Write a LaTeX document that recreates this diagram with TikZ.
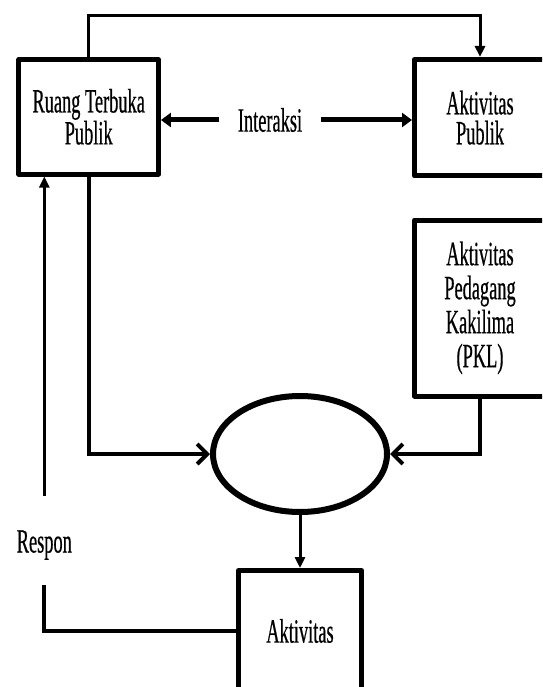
\documentclass[tikz,border=0pt]{standalone}
\usepackage{fontspec}
\newfontfamily\diagfont[FakeStretch=0.54,FakeBold=0.5]{Liberation Serif}
\usetikzlibrary{arrows.meta,shapes.geometric}

\begin{document}
\begin{tikzpicture}[x=1pt,y=-1pt,font=\diagfont\fontsize{34}{30}\selectfont,
        kotak/.style={draw,line width=5pt,line join=round,align=center,inner sep=0pt},
        panah/.style={-{Triangle[length=11pt,width=10pt]}}]
        \useasboundingbox (0,0) rectangle (542,687);
        \clip (0,0) rectangle (542,687);
        \node[kotak,minimum width=139.5pt,minimum height=114.5pt] (rtp) at (88.7,116.8) {Ruang Terbuka\\Publik};
        \node[kotak,minimum width=131pt,minimum height=116.5pt] (ap) at (480,117.7) {Aktivitas\\Publik};
        \node[kotak,minimum width=131pt,minimum height=176pt,font=\diagfont\fontsize{34}{34}\selectfont] (pkl) at (480,308) {Aktivitas\\Pedagang\\Kakilima\\(PKL)};
        \node[draw,ellipse,line width=6pt,minimum width=174pt,minimum height=116pt,inner sep=0pt] (ell) at (300,454) {};
        \node[kotak,minimum width=123pt,minimum height=121pt] (akt) at (300,631) {Aktivitas};
        \node[minimum width=101pt,inner sep=0pt] (int) at (270,120) {Interaksi};
        \node (resp) at (44.3,545) {Respon};
        \coordinate (rsptop) at (44.3,496);
        \coordinate (rspbot) at (44.3,585);
        \draw[line width=3pt,panah] (rtp.north) -- ++(0,-42) -| (ap.north);
        \draw[line width=5pt,-{Triangle[length=10pt,width=14pt]}] (int.west) -- (int.west -| rtp.east);
        \draw[line width=5pt,-{Triangle[length=10pt,width=14pt]}] (int.east) -- (int.east -| ap.west);
        \draw[line width=4pt,-{Straight Barb[length=10pt,width=20pt]}] (rtp.south) |- (ell.west);
        \draw[line width=4pt,-{Straight Barb[length=10pt,width=20pt]}] (pkl.south) |- (ell.east);
        \draw[line width=3pt,panah] (ell.south) -- (akt.north);
        \draw[line width=2.5pt,panah] (rsptop) -- (rsptop |- rtp.south);
        \draw[line width=4pt] (rspbot) |- (akt.west);
    \end{tikzpicture}
\end{document}
